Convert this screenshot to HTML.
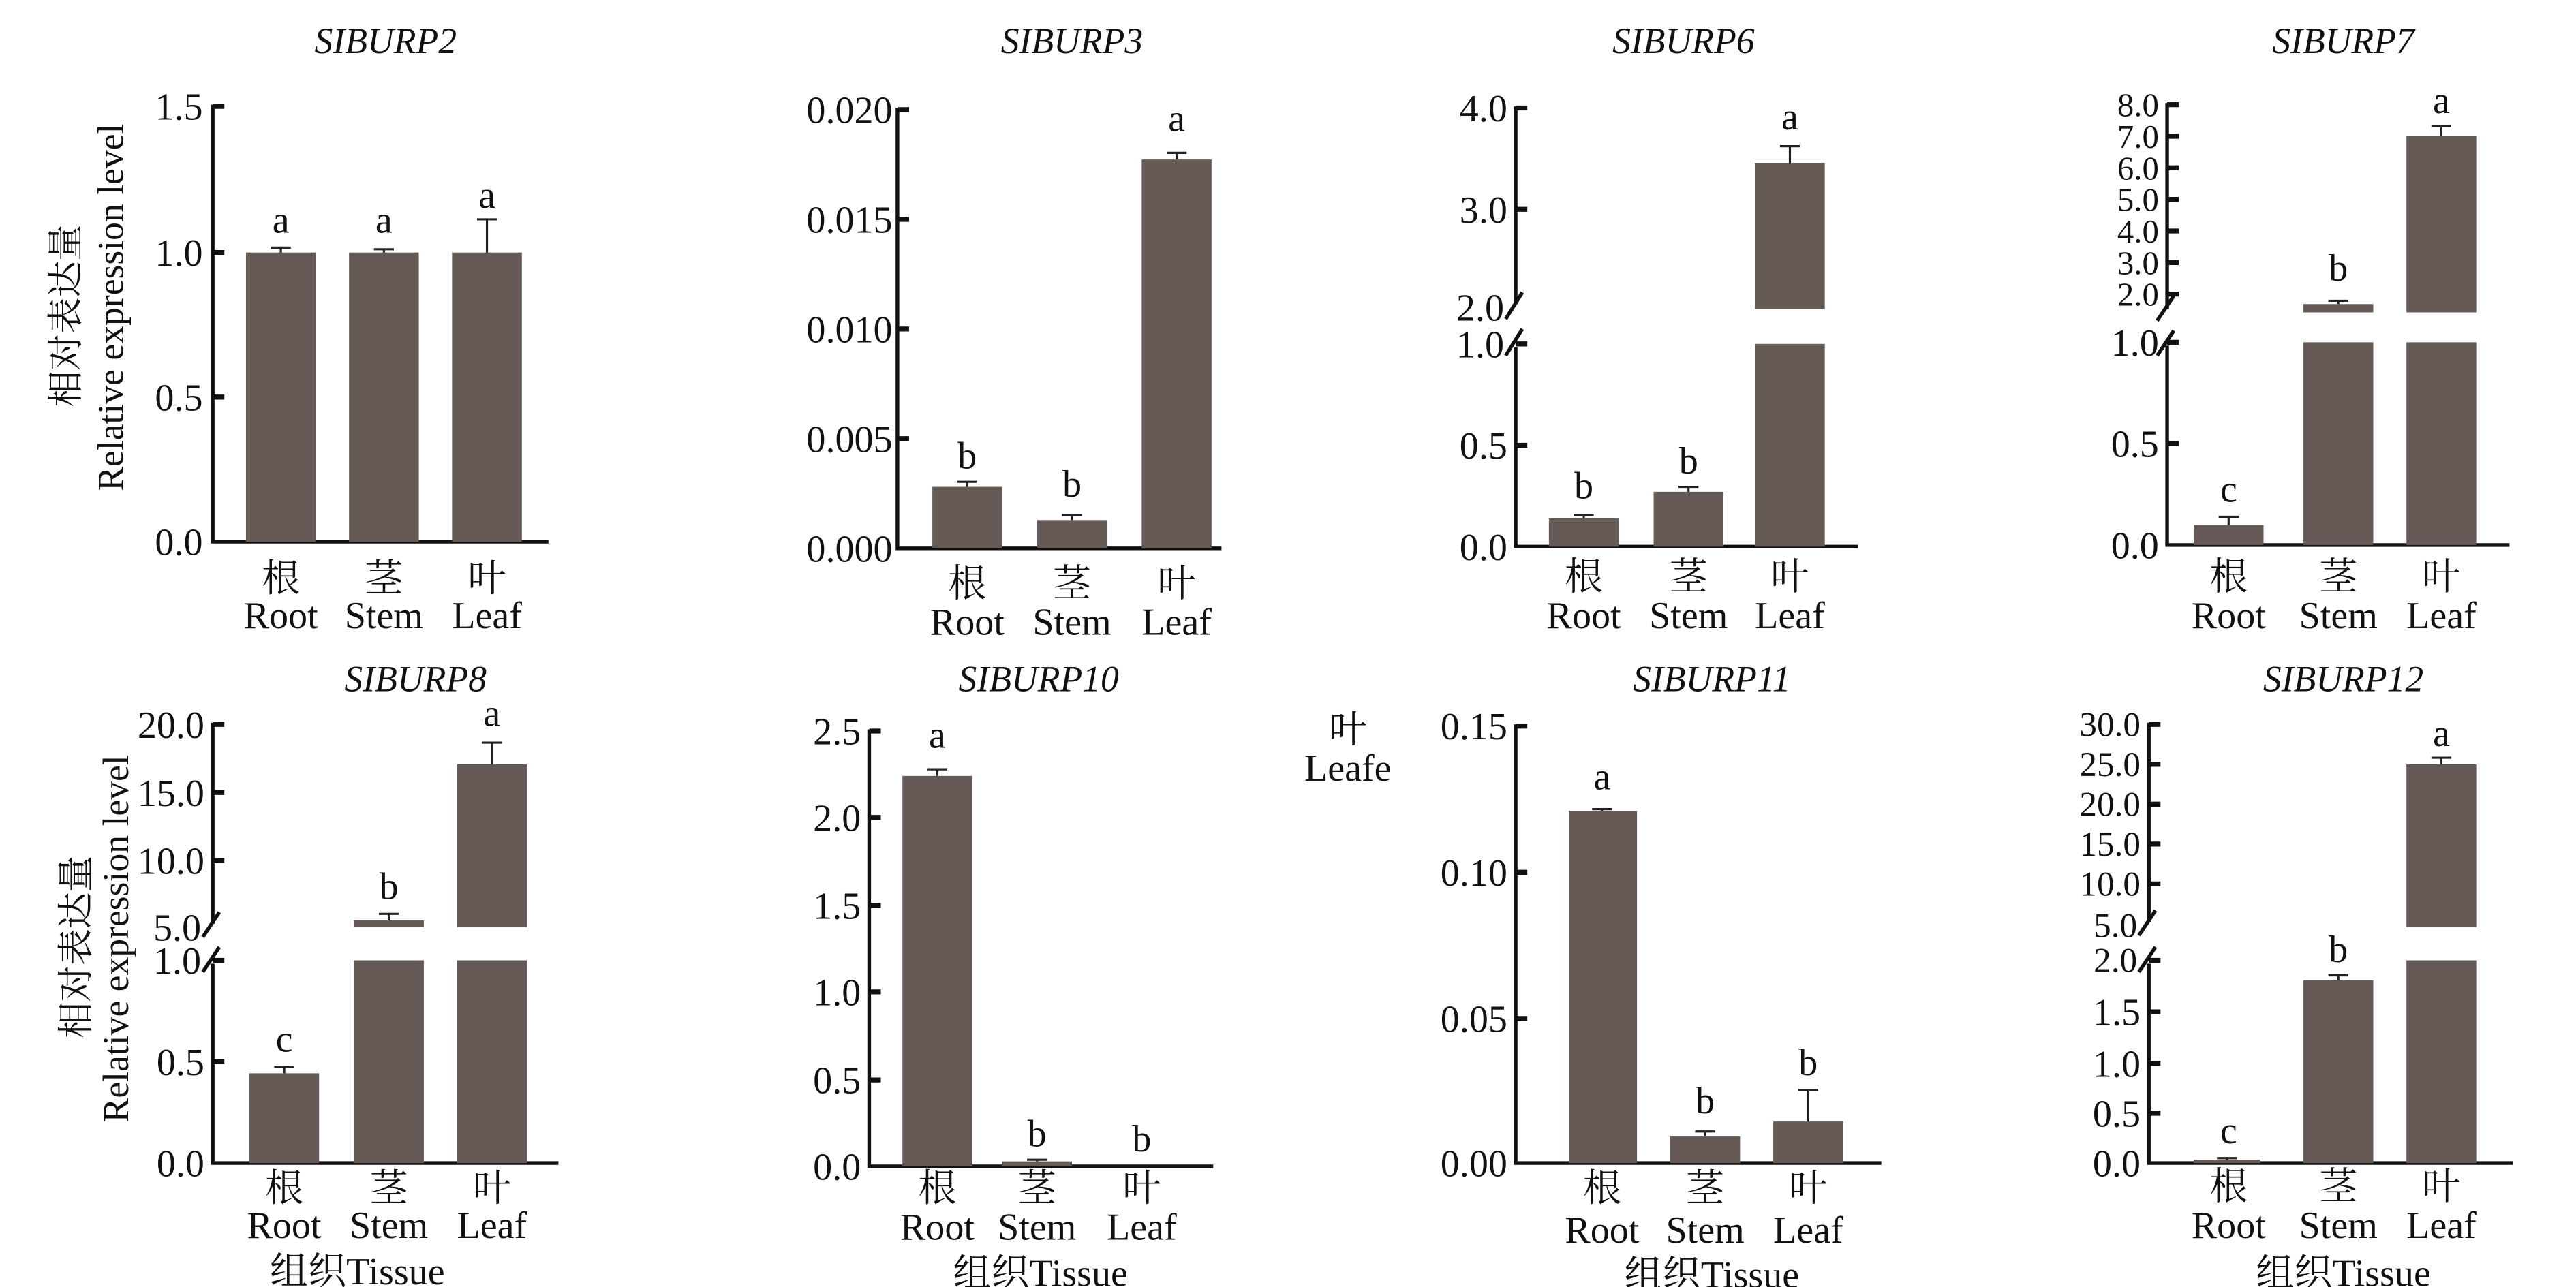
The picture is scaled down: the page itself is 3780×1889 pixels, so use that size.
<!DOCTYPE html>
<html><head><meta charset="utf-8"><style>
html,body{margin:0;padding:0;background:#fff;}
svg{display:block;}
text{font-family:"Liberation Serif","Noto Serif CJK SC","Noto Sans CJK SC",serif;fill:#111;}
.t{font-size:23px;text-anchor:end;}
.c{font-size:23px;text-anchor:middle;}
.ti{font-size:22px;font-style:italic;text-anchor:middle;}
.ax{stroke:#111;stroke-width:2.2;fill:none;}
.tk{stroke:#111;stroke-width:3;}
.er{stroke:#222;stroke-width:1.3;fill:none;}
.b{fill:#665a57;}
</style></head><body>
<svg width="3780" height="1889" viewBox="0 0 1550 774.6" xmlns="http://www.w3.org/2000/svg">
<text class="ti" x="232" y="32">SIBURP2</text>
<g transform="translate(47,190) rotate(-90)"><text class="c" x="0" y="0" style="font-size:22px">相对表达量</text></g>
<g transform="translate(74,185) rotate(-90)"><text class="c" x="0" y="0" style="font-size:22px">Relative expression level</text></g>
<path class="ax" d="M128,63 V326 H330"/>
<path class="tk" d="M128,64h7M128,152h7M128,239h7"/>
<text class="t" x="122" y="72">1.5</text><text class="t" x="122" y="160">1.0</text><text class="t" x="122" y="247">0.5</text><text class="t" x="122" y="334">0.0</text>
<rect class="b" x="148" y="152" width="42" height="174"/><rect class="b" x="210" y="152" width="42" height="174"/><rect class="b" x="272" y="152" width="42" height="174"/>
<path class="er" d="M169,152V149M163,149h12M231,152V150M225,150h12M293,152V132M287,132h12"/>
<text class="c" x="169" y="140">a</text><text class="c" x="231" y="140">a</text><text class="c" x="293" y="125">a</text>
<text class="c" x="169" y="356">根</text><text class="c" x="231" y="356">茎</text><text class="c" x="293" y="356">叶</text>
<text class="c" x="169" y="378">Root</text><text class="c" x="231" y="378">Stem</text><text class="c" x="293" y="378">Leaf</text>

<text class="ti" x="645" y="32">SIBURP3</text>
<path class="ax" d="M540,65 V330 H735"/>
<path class="tk" d="M540,66h7M540,132h7M540,198h7M540,264h7"/>
<text class="t" x="537" y="74">0.020</text><text class="t" x="537" y="140">0.015</text><text class="t" x="537" y="206">0.010</text><text class="t" x="537" y="272">0.005</text><text class="t" x="537" y="338">0.000</text>
<rect class="b" x="561" y="293" width="42" height="37"/><rect class="b" x="624" y="313" width="42" height="17"/><rect class="b" x="687" y="96" width="42" height="234"/>
<path class="er" d="M582,293V290M576,290h12M645,313V310M639,310h12M708,96V92M702,92h12"/>
<text class="c" x="582" y="282">b</text><text class="c" x="645" y="299">b</text><text class="c" x="708" y="79">a</text>
<text class="c" x="582" y="359">根</text><text class="c" x="645" y="359">茎</text><text class="c" x="708" y="359">叶</text>
<text class="c" x="582" y="382">Root</text><text class="c" x="645" y="382">Stem</text><text class="c" x="708" y="382">Leaf</text>

<text class="ti" x="1013" y="32">SIBURP6</text>
<path class="ax" d="M912,64 V183 M912,209 V329 H1118"/>
<path class="ax" d="M906,192 L916,176 M906,214 L916,198"/>
<path class="tk" d="M912,65h7M912,126h7M912,207h7M912,268h7"/>
<text class="t" x="907" y="73">4.0</text><text class="t" x="907" y="134">3.0</text><text class="t" x="905" y="193">2.0</text><text class="t" x="905" y="215">1.0</text><text class="t" x="907" y="276">0.5</text><text class="t" x="907" y="337">0.0</text>
<rect class="b" x="932" y="312" width="42" height="17"/><rect class="b" x="995" y="296" width="42" height="33"/>
<rect class="b" x="1056" y="207" width="42" height="122"/><rect class="b" x="1056" y="98" width="42" height="88"/>
<path class="er" d="M953,312V310M947,310h12M1016,296V293M1010,293h12M1077,98V88M1071,88h12"/>
<text class="c" x="953" y="300">b</text><text class="c" x="1016" y="285">b</text><text class="c" x="1077" y="78">a</text>
<text class="c" x="953" y="355">根</text><text class="c" x="1016" y="355">茎</text><text class="c" x="1077" y="355">叶</text>
<text class="c" x="953" y="378">Root</text><text class="c" x="1016" y="378">Stem</text><text class="c" x="1077" y="378">Leaf</text>

<text class="ti" x="1410" y="32">SIBURP7</text>
<path class="ax" d="M1304,62 V186 M1304,208 V328 H1510"/>
<path class="ax" d="M1298,193 L1308,178 M1298,214 L1308,199"/>
<path class="tk" d="M1304,63h7M1304,82h7M1304,101h7M1304,120h7M1304,139h7M1304,158h7M1304,177h7M1304,206h7M1304,267h7"/>
<text class="t" x="1299" y="70" style="font-size:20px">8.0</text><text class="t" x="1299" y="89" style="font-size:20px">7.0</text><text class="t" x="1299" y="108" style="font-size:20px">6.0</text><text class="t" x="1299" y="127" style="font-size:20px">5.0</text><text class="t" x="1299" y="146" style="font-size:20px">4.0</text><text class="t" x="1299" y="165" style="font-size:20px">3.0</text><text class="t" x="1299" y="184" style="font-size:20px">2.0</text>
<text class="t" x="1299" y="214">1.0</text><text class="t" x="1299" y="275">0.5</text><text class="t" x="1299" y="336">0.0</text>
<rect class="b" x="1320" y="316" width="42" height="12"/><rect class="b" x="1386" y="206" width="42" height="122"/><rect class="b" x="1386" y="183" width="42" height="5"/>
<rect class="b" x="1448" y="206" width="42" height="122"/><rect class="b" x="1448" y="82" width="42" height="106"/>
<path class="er" d="M1341,316V311M1335,311h12M1407,183V181M1401,181h12M1469,82V76M1463,76h12"/>
<text class="c" x="1341" y="302">c</text><text class="c" x="1407" y="169">b</text><text class="c" x="1469" y="68">a</text>
<text class="c" x="1341" y="355">根</text><text class="c" x="1407" y="355">茎</text><text class="c" x="1469" y="355">叶</text>
<text class="c" x="1341" y="378">Root</text><text class="c" x="1407" y="378">Stem</text><text class="c" x="1469" y="378">Leaf</text>

<text class="ti" x="250" y="416">SIBURP8</text>
<g transform="translate(53,570) rotate(-90)"><text class="c" x="0" y="0" style="font-size:22px">相对表达量</text></g>
<g transform="translate(77,565) rotate(-90)"><text class="c" x="0" y="0" style="font-size:22px">Relative expression level</text></g>
<path class="ax" d="M128,435 V556 M128,580 V700 H336"/>
<path class="ax" d="M122,564 L132,549 M122,585 L132,570"/>
<path class="tk" d="M128,436h7M128,477h7M128,518h7M128,578h7M128,639h7"/>
<text class="t" x="123" y="444">20.0</text><text class="t" x="123" y="485">15.0</text><text class="t" x="123" y="526">10.0</text><text class="t" x="121" y="566">5.0</text><text class="t" x="121" y="586">1.0</text><text class="t" x="123" y="647">0.5</text><text class="t" x="123" y="708">0.0</text>
<rect class="b" x="150" y="646" width="42" height="54"/><rect class="b" x="213" y="578" width="42" height="122"/><rect class="b" x="213" y="554" width="42" height="4"/>
<rect class="b" x="275" y="578" width="42" height="122"/><rect class="b" x="275" y="460" width="42" height="98"/>
<path class="er" d="M171,646V642M165,642h12M234,554V550M228,550h12M296,460V447M290,447h12"/>
<text class="c" x="171" y="633">c</text><text class="c" x="234" y="541">b</text><text class="c" x="296" y="437">a</text>
<text class="c" x="171" y="723">根</text><text class="c" x="234" y="723">茎</text><text class="c" x="296" y="723">叶</text>
<text class="c" x="171" y="745">Root</text><text class="c" x="234" y="745">Stem</text><text class="c" x="296" y="745">Leaf</text>
<text class="c" x="215" y="773">组织Tissue</text>

<text class="ti" x="625" y="416">SIBURP10</text>
<path class="ax" d="M523,439 V702 H730"/>
<path class="tk" d="M523,440h7M523,492h7M523,545h7M523,597h7M523,650h7"/>
<text class="t" x="518" y="448">2.5</text><text class="t" x="518" y="500">2.0</text><text class="t" x="518" y="553">1.5</text><text class="t" x="518" y="605">1.0</text><text class="t" x="518" y="658">0.5</text><text class="t" x="518" y="710">0.0</text>
<rect class="b" x="543" y="467" width="42" height="235"/><rect class="b" x="603" y="699" width="42" height="3"/>
<path class="er" d="M564,467V463M558,463h12M624,699V698M618,698h12"/>
<text class="c" x="564" y="450">a</text><text class="c" x="624" y="690">b</text><text class="c" x="687" y="693">b</text>
<text class="c" x="564" y="723">根</text><text class="c" x="624" y="723">茎</text><text class="c" x="687" y="723">叶</text>
<text class="c" x="564" y="746">Root</text><text class="c" x="624" y="746">Stem</text><text class="c" x="687" y="746">Leaf</text>
<text class="c" x="626" y="774">组织Tissue</text>

<text class="c" x="811" y="447">叶</text><text class="c" x="811" y="470">Leafe</text>

<text class="ti" x="1030" y="416">SIBURP11</text>
<path class="ax" d="M912,436 V700 H1132"/>
<path class="tk" d="M912,437h7M912,525h7M912,613h7"/>
<text class="t" x="907" y="445">0.15</text><text class="t" x="907" y="533">0.10</text><text class="t" x="907" y="621">0.05</text><text class="t" x="907" y="708">0.00</text>
<rect class="b" x="944" y="488" width="41" height="212"/><rect class="b" x="1005" y="684" width="42" height="16"/><rect class="b" x="1067" y="675" width="42" height="25"/>
<path class="er" d="M964,488V487M958,487h12M1026,684V681M1020,681h12M1088,675V656M1082,656h12"/>
<text class="c" x="964" y="475">a</text><text class="c" x="1026" y="670">b</text><text class="c" x="1088" y="647">b</text>
<text class="c" x="964" y="723">根</text><text class="c" x="1026" y="723">茎</text><text class="c" x="1088" y="723">叶</text>
<text class="c" x="964" y="748">Root</text><text class="c" x="1026" y="748">Stem</text><text class="c" x="1088" y="748">Leaf</text>
<text class="c" x="1030" y="775">组织Tissue</text>

<text class="ti" x="1410" y="416">SIBURP12</text>
<path class="ax" d="M1293,435 V555 M1293,580 V700 H1512"/>
<path class="ax" d="M1287,563 L1297,548 M1287,585 L1297,570"/>
<path class="tk" d="M1293,436h7M1293,460h7M1293,484h7M1293,508h7M1293,532h7M1293,578h7M1293,609h7M1293,640h7M1293,670h7"/>
<text class="t" x="1288" y="443" style="font-size:21px">30.0</text><text class="t" x="1288" y="467" style="font-size:21px">25.0</text><text class="t" x="1288" y="491" style="font-size:21px">20.0</text><text class="t" x="1288" y="515" style="font-size:21px">15.0</text><text class="t" x="1288" y="539" style="font-size:21px">10.0</text><text class="t" x="1286" y="564" style="font-size:21px">5.0</text><text class="t" x="1286" y="585" style="font-size:21px">2.0</text>
<text class="t" x="1288" y="617">1.5</text><text class="t" x="1288" y="648">1.0</text><text class="t" x="1288" y="678">0.5</text><text class="t" x="1288" y="708">0.0</text>
<rect class="b" x="1320" y="698" width="40" height="2"/><rect class="b" x="1386" y="590" width="42" height="110"/>
<rect class="b" x="1448" y="578" width="42" height="122"/><rect class="b" x="1448" y="460" width="42" height="98"/>
<path class="er" d="M1340,698V697M1334,697h12M1407,590V587M1401,587h12M1469,460V456M1463,456h12"/>
<text class="c" x="1341" y="688">c</text><text class="c" x="1407" y="579">b</text><text class="c" x="1469" y="449">a</text>
<text class="c" x="1341" y="722">根</text><text class="c" x="1407" y="722">茎</text><text class="c" x="1469" y="722">叶</text>
<text class="c" x="1341" y="745">Root</text><text class="c" x="1407" y="745">Stem</text><text class="c" x="1469" y="745">Leaf</text>
<text class="c" x="1410" y="774">组织Tissue</text>
</svg>
</body></html>
